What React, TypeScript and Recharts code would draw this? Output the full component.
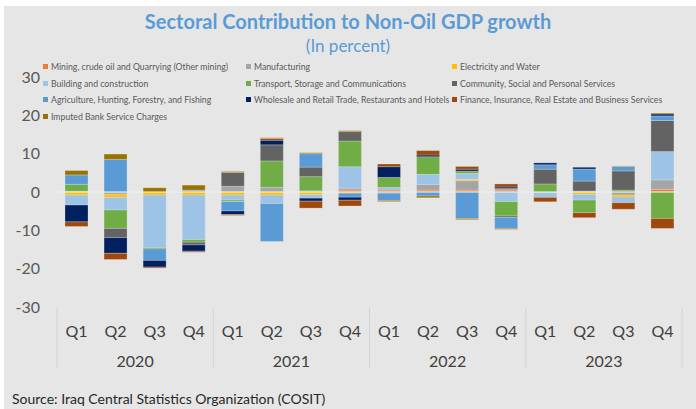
import { BarChart, Bar, XAxis, YAxis, ReferenceLine, Legend } from 'recharts'

const QUARTERS = ['Q1', 'Q2', 'Q3', 'Q4', 'Q1', 'Q2', 'Q3', 'Q4', 'Q1', 'Q2', 'Q3', 'Q4', 'Q1', 'Q2', 'Q3', 'Q4']
const YEARS = ['2020', '2020', '2020', '2020', '2021', '2021', '2021', '2021', '2022', '2022', '2022', '2022', '2023', '2023', '2023', '2023']
const Y_TICKS = [-30, -20, -10, 0, 10, 20, 30]

// contributions, percentage points
const mining = [0, 0, 0, 0, 0, 0, 0, 0.5, 0.5, 0.5, 0.5, 0.5, 0, 0, 0, 0.7]
const manufacturing = [0.2, -0.6, 0, 0.5, 1.5, 1.2, 0.3, 0.5, -0.3, 1.5, 2.45, 0.4, 0, 0.25, -0.8, 2.45]
const electricity = [-0.8, -0.8, -0.8, -0.8, -0.8, -0.8, -0.7, -0.3, 0, 0, 0.35, 0, -0.1, -0.6, -0.5, 0]
const building = [-2.6, -3.3, -13.7, -11.6, -1.3, -2.2, -0.9, 5.6, 0.7, 2.6, 1.55, -2.5, -1.3, -1.5, -1.5, 7.4]
const transport = [1.8, -4.8, -0.35, -0.7, -0.4, 6.9, 3.7, 6.7, 2.6, 4.6, 0.6, -3.75, 2.1, -3.3, 0.5, -6.9]
const community = [0, -2.4, 0, -0.7, 3.6, 4.2, 2.5, 2.45, 0, 0, 0, -0.35, 3.85, 2.6, 5.0, 8.1]
const agriculture = [2.45, 8.5, -3.0, 0, -2.45, -9.9, 3.5, -1.05, -1.9, -1.05, -6.9, -2.9, 1.15, 3.15, 1.15, 1.2]
const wholesale = [-4.4, -4.1, -1.75, -1.65, -0.9, 1.2, -0.8, -0.8, 2.8, 0.45, 0.5, 0.4, 0.5, 0.45, 0, 0.5]
const finance = [-1.2, -1.6, -0.25, -0.25, -0.25, 0.45, -1.8, -1.5, 0.7, 1.15, 0.7, 0.8, -1.15, -1.3, -1.7, -2.6]
const imputed = [1.15, 1.4, 1.1, 1.3, 0.25, 0.2, 0.25, 0.25, -0.3, -0.45, -0.3, -0.25, 0, 0, 0.15, 0.25]

const SERIES = [
  { key: 'mining', name: 'Mining, crude oil and Quarrying (Other mining)', color: '#ED7D31', values: mining },
  { key: 'manufacturing', name: 'Manufacturing', color: '#A5A5A5', values: manufacturing },
  { key: 'electricity', name: 'Electricity and Water', color: '#FFC000', values: electricity },
  { key: 'building', name: 'Building and construction', color: '#9DC3E6', values: building },
  { key: 'transport', name: 'Transport, Storage and Communications', color: '#70AD47', values: transport },
  { key: 'community', name: 'Community, Social and Personal Services', color: '#636363', values: community },
  { key: 'agriculture', name: 'Agriculture, Hunting, Forestry, and Fishing', color: '#5B9BD5', values: agriculture },
  { key: 'wholesale', name: 'Wholesale and Retail Trade, Restaurants and Hotels', color: '#002060', values: wholesale },
  { key: 'finance', name: 'Finance, Insurance, Real Estate and Business Services', color: '#9E480E', values: finance },
  { key: 'imputed', name: 'Imputed Bank Service Charges', color: '#997300', values: imputed },
]

const data = QUARTERS.map((q, i) => {
  const row: Record<string, string | number> = { q, year: YEARS[i] }
  SERIES.forEach((s) => {
    row[s.key] = s.values[i]
  })
  return row
})

const W = 696
const H = 409
const PLOT_LEFT = 57
const PLOT_RIGHT = 682
const FONT = 'Lato, "Open Sans", sans-serif'

function QuarterTick(props: any) {
  const { x, y, payload, index } = props
  const band = (PLOT_RIGHT - PLOT_LEFT) / QUARTERS.length
  const last = QUARTERS.length - 1
  return (
    <g>
      <text x={x} y={y + 23} textAnchor="middle" dominantBaseline="central" fontSize={16} fill="#404040">
        {payload.value}
      </text>
      {index % 4 === 0 && (
        <line x1={x - band / 2} x2={x - band / 2} y1={y + 1} y2={y + 61} stroke="#d2d2d2" />
      )}
      {index === last && <line x1={x + band / 2} x2={x + band / 2} y1={y + 1} y2={y + 61} stroke="#d2d2d2" />}
      {index % 4 === 1 && (
        <text x={x + band / 2} y={y + 53} textAnchor="middle" dominantBaseline="central" fontSize={16} fill="#404040">
          {YEARS[index]}
        </text>
      )}
    </g>
  )
}

// keep the legend in series order (the library sorts it by name)
function LegendBox(props: any) {
  const order = SERIES.map((s) => s.name)
  const items = [...(props.payload ?? [])].sort((a: any, b: any) => order.indexOf(a.value) - order.indexOf(b.value))
  return (
    <div
      style={{
        display: 'grid',
        gridTemplateColumns: '203px 206px 200px',
        gridAutoRows: '16.7px',
        fontFamily: FONT,
        fontSize: 8.7,
        color: '#595959',
      }}
    >
      {items.map((it: any) => (
        <div key={it.value} style={{ display: 'flex', alignItems: 'center', whiteSpace: 'nowrap' }}>
          <span style={{ width: 5, height: 5, background: it.color, marginRight: 3, flex: 'none' }} />
          {it.value}
        </div>
      ))}
    </div>
  )
}

export default function App() {
  return (
    <div style={{ position: 'fixed', left: 0, top: 0, width: W, height: H, background: '#fff', fontFamily: FONT }}>
      <div style={{ position: 'absolute', left: 4, top: 6, right: 0, bottom: 0, background: '#E6E6E6' }} />
      <div
        style={{
          position: 'absolute',
          left: 0,
          width: W,
          top: 9,
          textAlign: 'center',
          color: '#5B9BD5',
          fontWeight: 700,
          fontSize: 20,
        }}
      >
        Sectoral Contribution to Non-Oil GDP growth
      </div>
      <div style={{ position: 'absolute', left: 0, width: W, top: 35, textAlign: 'center', color: '#5B9BD5', fontSize: 17 }}>
        (In percent)
      </div>
      <div style={{ position: 'absolute', left: 0, top: 0 }}>
        <BarChart
          width={W}
          height={H}
          data={data}
          stackOffset="sign"
          margin={{ top: 77, right: W - PLOT_RIGHT, bottom: 40, left: 12 }}
          style={{ fontFamily: FONT }}
        >
          <XAxis
            dataKey="q"
            interval={0}
            tickLine={false}
            axisLine={false}
            tickSize={0}
            tickMargin={0}
            height={62}
            tick={<QuarterTick />}
          />
          <YAxis
            domain={[-30, 30]}
            ticks={Y_TICKS}
            width={45}
            tickLine={false}
            axisLine={false}
            tickSize={15}
            tick={{ fontSize: 16, fill: '#595959' }}
          />
          <ReferenceLine y={0} stroke="#efefef" strokeWidth={1} />
          <Legend
            layout="vertical"
            align="center"
            verticalAlign="middle"
            wrapperStyle={{ left: 43, top: 58, width: 640 }}
            content={<LegendBox />}
          />
          {SERIES.map((s) => (
            <Bar
              key={s.key}
              dataKey={s.key}
              name={s.name}
              stackId="a"
              fill={s.color}
              barSize={23}
              stroke="#f4f4f4"
              strokeOpacity={0.5}
              strokeWidth={0.5}
              isAnimationActive={false}
            />
          ))}
        </BarChart>
      </div>
      <div style={{ position: 'absolute', left: 12, top: 390, fontSize: 14, color: '#262626' }}>
        Source: Iraq Central Statistics Organization (COSIT)
      </div>
    </div>
  )
}
